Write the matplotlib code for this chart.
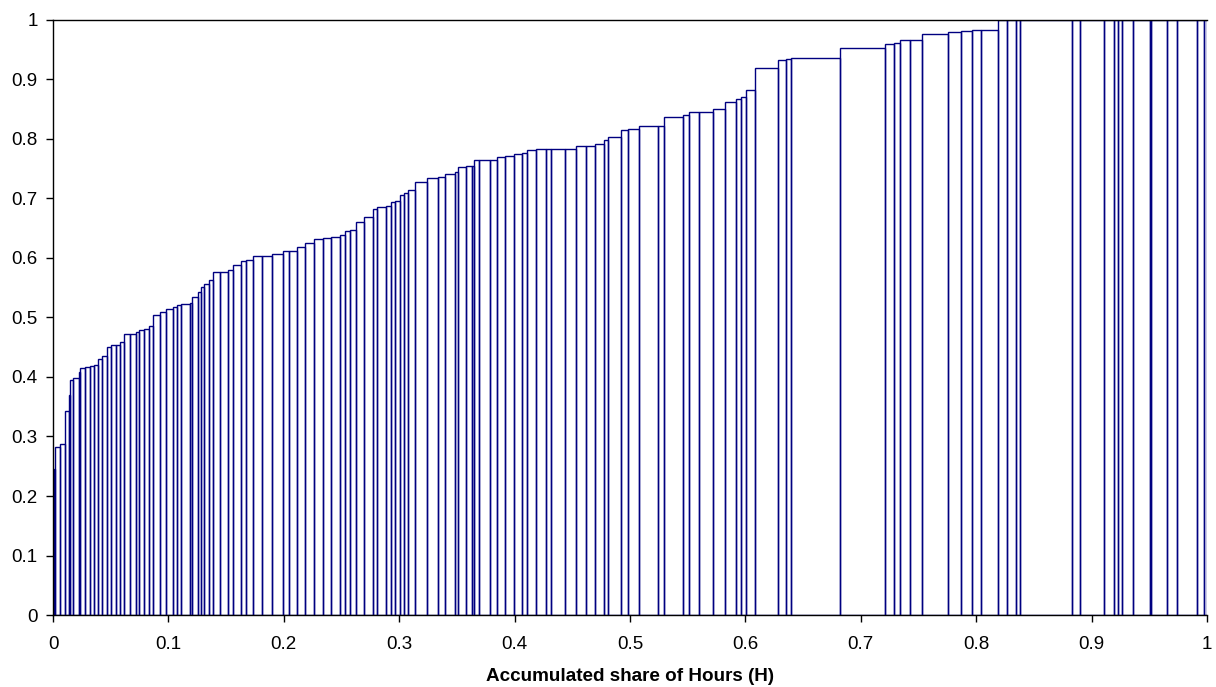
#!/usr/bin/env python3
"""
Step chart of accumulated share of hours (H) against share value.
"""

import matplotlib
matplotlib.use("Agg")
import matplotlib.pyplot as plt
import numpy as np

# left edge of each bar on the H axis
left_edges = [
    0.0000, 0.0011, 0.0020, 0.0063, 0.0107, 0.0136, 0.0147, 0.0176, 0.0225, 0.0234,
    0.0280, 0.0321, 0.0358, 0.0388, 0.0422, 0.0466, 0.0506, 0.0544, 0.0578, 0.0613,
    0.0670, 0.0717, 0.0743, 0.0787, 0.0835, 0.0865, 0.0925, 0.0977, 0.1043, 0.1073,
    0.1110, 0.1186, 0.1206, 0.1255, 0.1281, 0.1312, 0.1350, 0.1390, 0.1451, 0.1515,
    0.1559, 0.1628, 0.1674, 0.1729, 0.1815, 0.1897, 0.1989, 0.2049, 0.2110, 0.2180,
    0.2261, 0.2336, 0.2408, 0.2483, 0.2526, 0.2573, 0.2622, 0.2691, 0.2769, 0.2807,
    0.2882, 0.2925, 0.2960, 0.3003, 0.3038, 0.3079, 0.3134, 0.3238, 0.3335, 0.3397,
    0.3480, 0.3507, 0.3579, 0.3628, 0.3651, 0.3689, 0.3787, 0.3845, 0.3918, 0.3992,
    0.4062, 0.4105, 0.4183, 0.4270, 0.4317, 0.4435, 0.4530, 0.4617, 0.4695, 0.4773,
    0.4811, 0.4926, 0.4981, 0.5076, 0.5245, 0.5293, 0.5461, 0.5510, 0.5597, 0.5718,
    0.5822, 0.5915, 0.5961, 0.6004, 0.6082, 0.6282, 0.6351, 0.6395, 0.6820, 0.7213,
    0.7291, 0.7340, 0.7424, 0.7531, 0.7756, 0.7869, 0.7964, 0.8043, 0.8190, 0.8268,
    0.8346, 0.8381, 0.8832, 0.8901, 0.9109, 0.9191, 0.9231, 0.9265, 0.9361, 0.9503,
    0.9517, 0.9656, 0.9740, 0.9916, 0.9971,
]

# bar heights
heights = [
    0.198, 0.245, 0.282, 0.287, 0.343, 0.370, 0.395, 0.399, 0.408, 0.415,
    0.417, 0.418, 0.421, 0.430, 0.435, 0.450, 0.453, 0.454, 0.458, 0.472,
    0.472, 0.475, 0.479, 0.481, 0.485, 0.504, 0.509, 0.514, 0.517, 0.521,
    0.523, 0.524, 0.534, 0.543, 0.551, 0.556, 0.563, 0.576, 0.577, 0.579,
    0.589, 0.595, 0.597, 0.603, 0.604, 0.606, 0.611, 0.611, 0.618, 0.625,
    0.632, 0.634, 0.636, 0.639, 0.645, 0.647, 0.661, 0.669, 0.682, 0.685,
    0.687, 0.694, 0.695, 0.706, 0.710, 0.715, 0.727, 0.734, 0.736, 0.742,
    0.745, 0.753, 0.754, 0.754, 0.764, 0.765, 0.765, 0.769, 0.772, 0.775,
    0.777, 0.782, 0.783, 0.783, 0.783, 0.784, 0.789, 0.789, 0.792, 0.798,
    0.803, 0.815, 0.816, 0.821, 0.821, 0.837, 0.840, 0.846, 0.846, 0.850,
    0.862, 0.867, 0.871, 0.882, 0.920, 0.933, 0.934, 0.936, 0.953, 0.959,
    0.961, 0.966, 0.967, 0.977, 0.980, 0.981, 0.983, 0.984, 1.000, 1.000,
    1.000, 1.000, 1.000, 1.000, 1.000, 1.000, 1.000, 1.000, 1.000, 1.000,
    1.000, 1.000, 1.000, 1.000, 1.000,
]

x_ticks = [0, 0.1, 0.2, 0.3, 0.4, 0.5, 0.6, 0.7, 0.8, 0.9, 1]
x_tick_labels = ["0", "0.1", "0.2", "0.3", "0.4", "0.5", "0.6", "0.7", "0.8", "0.9", "1"]
y_ticks = [0, 0.1, 0.2, 0.3, 0.4, 0.5, 0.6, 0.7, 0.8, 0.9, 1]
y_tick_labels = ["0", "0.1", "0.2", "0.3", "0.4", "0.5", "0.6", "0.7", "0.8", "0.9", "1"]

plt.rcParams['font.family'] = ['Liberation Sans', 'DejaVu Sans']

left = np.array(left_edges)
widths = np.diff(np.append(left, 1.0))

fig = plt.figure(figsize=(12.16, 6.87), dpi=100)
ax = fig.add_axes([0.0436, 0.1048, 0.9490, 0.8661])

ax.bar(left, heights, width=widths, align='edge', fill=False,
       edgecolor='#000080', linewidth=1.0)

ax.set_xlim(0, 1)
ax.set_ylim(0, 1)
ax.set_xticks(x_ticks)
ax.set_xticklabels(x_tick_labels)
ax.set_yticks(y_ticks)
ax.set_yticklabels(y_tick_labels)
ax.tick_params(direction='out', length=5, width=1, labelsize=13.5)
ax.tick_params(axis='x', pad=10)
ax.tick_params(axis='y', pad=6)

for side in ['left', 'bottom', 'top']:
    ax.spines[side].set_color('black')
    ax.spines[side].set_linewidth(1.0)
ax.spines['right'].set_visible(False)

ax.set_xlabel('Accumulated share of Hours (H)', fontsize=13.6,
              fontweight='bold', labelpad=11)

plt.savefig('out.png', dpi=100)
